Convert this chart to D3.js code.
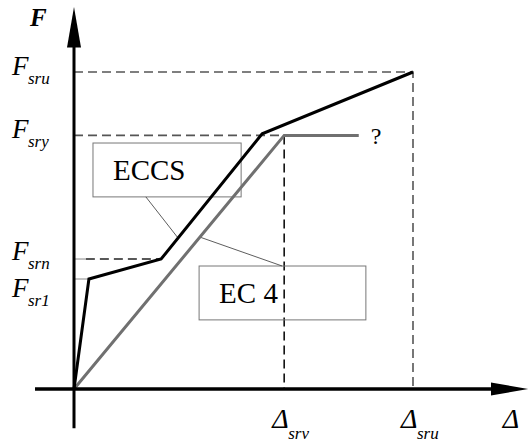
<!DOCTYPE html>
<html>
<head>
<meta charset="utf-8">
<script src="https://cdn.jsdelivr.net/npm/d3@7"></script>
<style>
  body { margin: 0; background: #fff; }
  svg text { font-family: "Liberation Serif", "DejaVu Serif", serif; }
</style>
</head>
<body>
<div id="chart"></div>
<script>
// Characteristic values (slip Δ, shear force F), arbitrary units
const deltaSrv = 6.2;
const deltaSru = 10;
const fSr1 = 3.47;
const fSrn = 4.1;
const fSry = 8;
const fSru = 10;

// ECCS curve (black) and EC 4 curve (gray)
const eccsX = [0, 0.44, 2.57, 5.55, deltaSru];
const eccsY = [0, fSr1, fSrn, 8.05, fSru];
const ec4X = [0, deltaSrv, 8.4];
const ec4Y = [0, fSry, fSry];

// Label boxes and their leaders
const boxNames = ["ECCS", "EC 4"];
const boxX0 = [0.56, 3.69];
const boxX1 = [4.93, 8.61];
const boxY0 = [7.76, 3.88];
const boxY1 = [6.06, 2.18];
const leaderFrom = [[2.12, 6.06], [3.72, 4.79]];
const leaderTo = [[3.05, 4.79], [6.14, 3.88]];

const W = 529, H = 443;
const serif = "Liberation Serif, DejaVu Serif, serif";

const x = d3.scaleLinear().domain([0, 10]).range([74, 413]);
const y = d3.scaleLinear().domain([0, 10]).range([389, 72]);

const svg = d3.select("#chart").append("svg")
  .attr("width", W)
  .attr("height", H)
  .style("display", "block");

const line = d3.line().x(d => x(d[0])).y(d => y(d[1]));

// dashed guide lines
const guides = [
  { pts: [[0, fSru], [deltaSru, fSru], [deltaSru, 0]], col: "#555" },
  { pts: [[0, fSry], [deltaSrv, fSry]], col: "#555" },
  { pts: [[deltaSrv, fSry], [deltaSrv, 0]], col: "#111" },
  { pts: [[0.35, fSrn], [2.57, fSrn]], col: "#222" }
];
svg.selectAll(".guide")
  .data(guides)
  .join("path")
  .attr("class", "guide")
  .attr("d", d => line(d.pts))
  .attr("fill", "none")
  .attr("stroke", d => d.col)
  .attr("stroke-width", 1.6)
  .attr("stroke-dasharray", "9,5");

// short thin ticks next to the F axis
svg.selectAll(".tick-f")
  .data([[fSrn, 0.35], [fSr1, 0.44]])
  .join("line")
  .attr("class", "tick-f")
  .attr("x1", x(0)).attr("x2", d => x(d[1]))
  .attr("y1", d => y(d[0])).attr("y2", d => y(d[0]))
  .attr("stroke", "#888")
  .attr("stroke-width", 1);

// boxes
svg.selectAll(".box")
  .data(boxNames)
  .join("rect")
  .attr("class", "box")
  .attr("x", (d, i) => x(boxX0[i]))
  .attr("y", (d, i) => y(boxY0[i]))
  .attr("width", (d, i) => x(boxX1[i]) - x(boxX0[i]))
  .attr("height", (d, i) => y(boxY1[i]) - y(boxY0[i]))
  .attr("fill", "none")
  .attr("stroke", "#777")
  .attr("stroke-width", 1);

svg.selectAll(".box-label")
  .data(boxNames)
  .join("text")
  .attr("class", "box-label")
  .attr("x", (d, i) => x(boxX0[i]) + 20)
  .attr("y", (d, i) => y(boxY1[i]) - 17)
  .attr("font-family", serif)
  .attr("font-size", 29)
  .attr("fill", "#000")
  .text(d => d);

// leaders
svg.selectAll(".leader")
  .data(leaderFrom)
  .join("line")
  .attr("class", "leader")
  .attr("x1", d => x(d[0])).attr("y1", d => y(d[1]))
  .attr("x2", (d, i) => x(leaderTo[i][0])).attr("y2", (d, i) => y(leaderTo[i][1]))
  .attr("stroke", "#333")
  .attr("stroke-width", 0.8);

// curves
svg.append("path")
  .attr("d", line(d3.zip(ec4X, ec4Y)))
  .attr("fill", "none")
  .attr("stroke", "#707070")
  .attr("stroke-width", 3);

svg.append("path")
  .attr("d", line(d3.zip(eccsX, eccsY)))
  .attr("fill", "none")
  .attr("stroke", "#000")
  .attr("stroke-width", 3)
  .attr("stroke-linejoin", "miter");

// axes with arrow heads
svg.append("line")
  .attr("x1", x(0)).attr("x2", x(0))
  .attr("y1", y(-1.24)).attr("y2", y(10.8))
  .attr("stroke", "#000").attr("stroke-width", 3);
svg.append("path")
  .attr("d", `M${x(0)},${y(12.05)} L${x(0) + 7},${y(10.77)} L${x(0) - 7},${y(10.77)} Z`)
  .attr("fill", "#000");

svg.append("line")
  .attr("x1", x(-1.15)).attr("x2", x(12.3))
  .attr("y1", y(0)).attr("y2", y(0))
  .attr("stroke", "#000").attr("stroke-width", 3.5);
svg.append("path")
  .attr("d", `M${x(13.4)},${y(0)} L${x(12.3)},${y(0) - 6.5} L${x(12.3)},${y(0) + 6.5} Z`)
  .attr("fill", "#000");

// axis title
svg.append("text")
  .attr("x", 30).attr("y", 26)
  .attr("font-family", serif)
  .attr("font-size", 25)
  .attr("font-weight", "bold")
  .attr("font-style", "italic")
  .text("F");

// F labels
const fLabels = [
  { v: fSru, sub: "sru", dy: 3 },
  { v: fSry, sub: "sry", dy: 3 },
  { v: fSrn, sub: "srn", dy: 1 },
  { v: fSr1, sub: "sr1", dy: 18 }
];
const fl = svg.selectAll(".flab")
  .data(fLabels)
  .join("g")
  .attr("class", "flab")
  .attr("transform", d => `translate(12,${y(d.v) + d.dy})`);
fl.append("text")
  .attr("font-family", serif)
  .attr("font-size", 27)
  .attr("font-style", "italic")
  .text("F");
fl.append("text")
  .attr("x", 16).attr("y", 9)
  .attr("font-family", serif)
  .attr("font-size", 17)
  .attr("font-style", "italic")
  .text(d => d.sub);

// Δ labels
const dLabels = [
  { v: deltaSrv, sub: "srv" },
  { v: deltaSru, sub: "sru" },
  { v: 13.0, sub: "" }
];
const dl = svg.selectAll(".dlab")
  .data(dLabels)
  .join("g")
  .attr("class", "dlab")
  .attr("transform", d => `translate(${x(d.v) - 12},428)`);
dl.append("text")
  .attr("font-family", serif)
  .attr("font-size", 28)
  .attr("font-style", "italic")
  .text("Δ");
dl.append("text")
  .attr("x", 16).attr("y", 11)
  .attr("font-family", serif)
  .attr("font-size", 17)
  .attr("font-style", "italic")
  .text(d => d.sub);

// question mark at end of EC 4 plateau
svg.append("text")
  .attr("x", x(8.4) + 12).attr("y", y(fSry) + 9)
  .attr("font-family", serif)
  .attr("font-size", 24)
  .text("?");
</script>
</body>
</html>
